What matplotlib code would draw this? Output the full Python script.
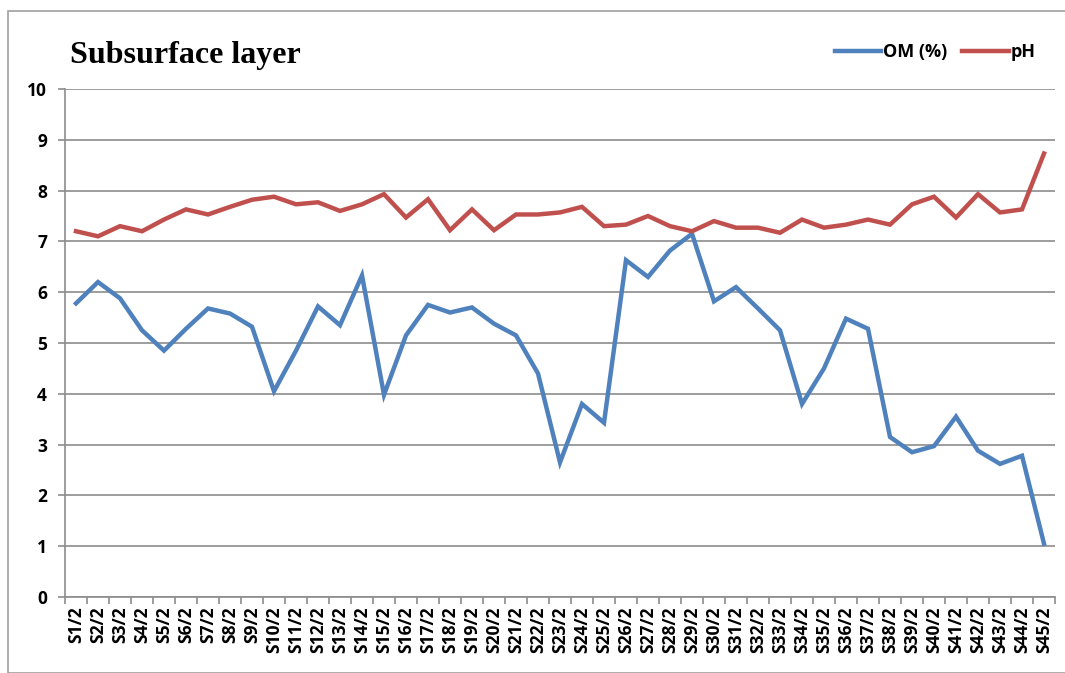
import numpy as np
import matplotlib.pyplot as plt
from matplotlib.patches import Rectangle

# sample names
SAMPLES = [f'S{i}/2' for i in range(1, 46)]

OM = [5.78, 6.20, 5.88, 5.25, 4.85, 5.28, 5.68, 5.58, 5.32, 4.05,
      4.85, 5.72, 5.35, 6.33, 3.98, 5.15, 5.75, 5.60, 5.70, 5.38,
      5.15, 4.40, 2.65, 3.80, 3.43, 6.63, 6.30, 6.82, 7.15, 5.82,
      6.10, 5.68, 5.25, 3.80, 4.50, 5.48, 5.28, 3.15, 2.85, 2.97,
      3.55, 2.88, 2.62, 2.78, 1.05]

PH = [7.20, 7.10, 7.30, 7.20, 7.43, 7.63, 7.53, 7.68, 7.82, 7.88,
      7.73, 7.77, 7.60, 7.73, 7.93, 7.47, 7.83, 7.22, 7.63, 7.22,
      7.53, 7.53, 7.57, 7.68, 7.30, 7.33, 7.50, 7.30, 7.20, 7.40,
      7.27, 7.27, 7.17, 7.43, 7.27, 7.33, 7.43, 7.33, 7.73, 7.88,
      7.47, 7.93, 7.57, 7.63, 8.73]

Y_TICKS = list(range(0, 11))

BLUE = '#4F81BD'
RED = '#C0504D'
GRID = '#8C8C8C'
TICK_FONT = 'Open Sans'


def main():
    fig = plt.figure(figsize=(10.65, 6.73), dpi=100)
    # outer chart border
    fig.patches.append(Rectangle((8 / 1065, 0.0), 1.0, 1 - 11 / 673,
                                 transform=fig.transFigure, fill=False,
                                 edgecolor='#A0A0A0', linewidth=1.2))

    ax = fig.add_axes([65 / 1065, 1 - 597 / 673, 990 / 1065, 508 / 673])
    x = np.arange(len(SAMPLES))

    ax.plot(x, OM, color=BLUE, lw=3.2, label='OM (%)', solid_joinstyle='miter')
    ax.plot(x, PH, color=RED, lw=3.2, label='pH', solid_joinstyle='miter')

    ax.set_xlim(-0.5, len(SAMPLES) - 0.5)
    ax.set_ylim(0, 10)
    ax.set_yticks(Y_TICKS)
    ax.set_yticklabels([str(v) for v in Y_TICKS], fontfamily=TICK_FONT,
                       fontweight='bold', fontsize=12.5)
    ax.set_xticks(x)
    ax.set_xticklabels(SAMPLES, rotation=90, fontfamily=TICK_FONT,
                       fontweight='bold', fontsize=12.5)
    ax.set_xticks(np.arange(-0.5, len(SAMPLES)), minor=True)
    ax.tick_params(axis='x', which='major', length=0, pad=7)
    ax.tick_params(axis='x', which='minor', length=5, color=GRID, width=1.2)
    ax.tick_params(axis='y', length=5, color=GRID, width=1.2, pad=8)

    ax.grid(axis='y', color=GRID, lw=1.2)
    ax.set_axisbelow(True)
    for side in ['top', 'right']:
        ax.spines[side].set_visible(False)
    for side in ['left', 'bottom']:
        ax.spines[side].set_color(GRID)
        ax.spines[side].set_linewidth(1.2)

    fig.text(70 / 1065, 1 - 55 / 673, 'Subsurface layer', fontfamily='Liberation Serif',
             fontweight='bold', fontsize=23, va='center', ha='left')

    fig.legend(loc='center right', bbox_to_anchor=(1052 / 1065, 1 - 52 / 673), ncol=2,
               frameon=False, prop={'family': TICK_FONT, 'weight': 'bold', 'size': 13},
               handlelength=2.6, handletextpad=0.1, columnspacing=0.8)

    fig.savefig('out.png', dpi=100)


if __name__ == '__main__':
    main()
